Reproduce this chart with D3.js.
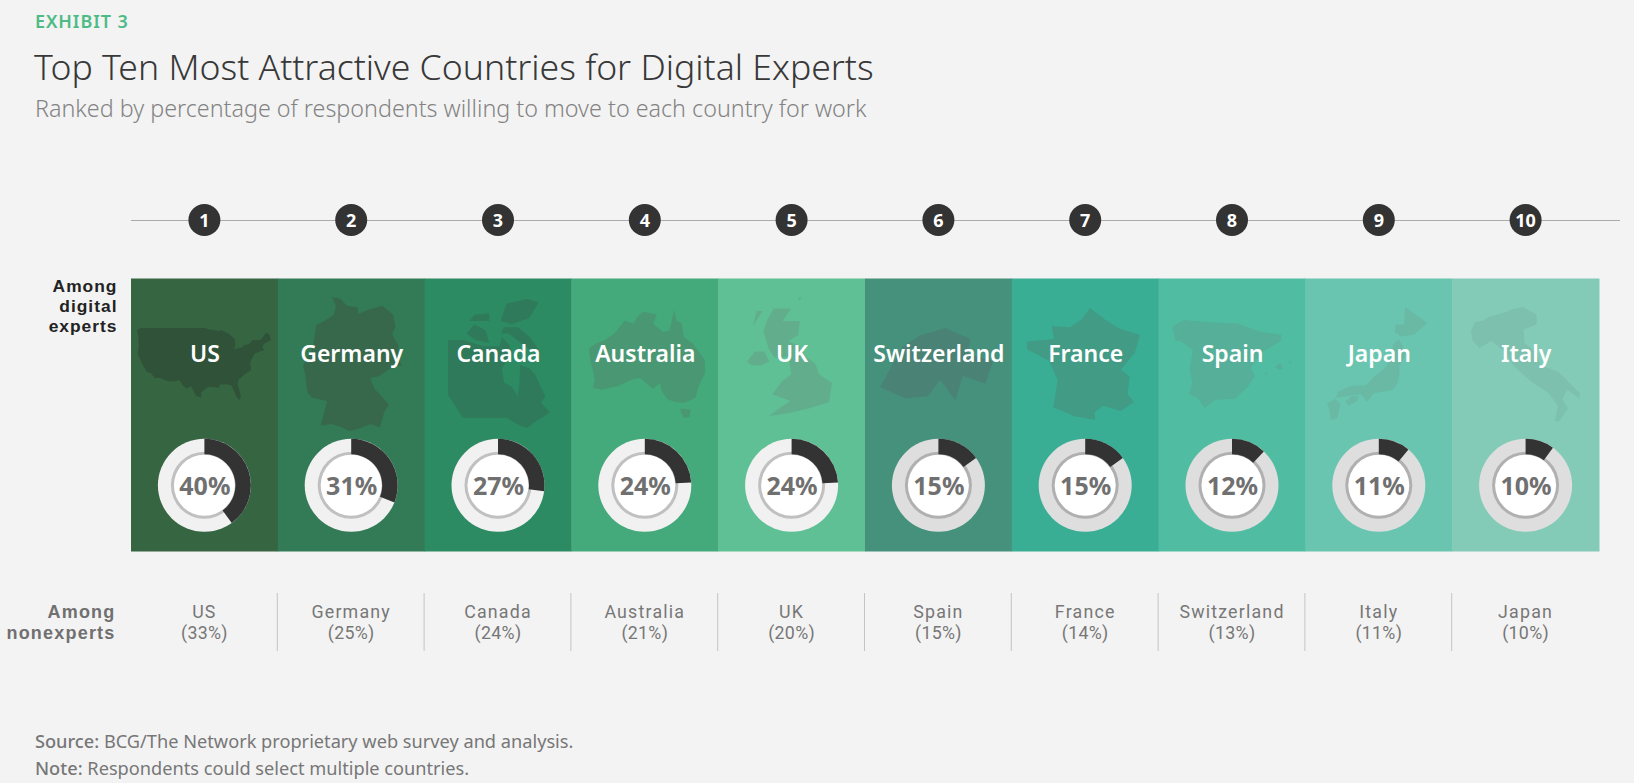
<!DOCTYPE html>
<html>
<head>
<meta charset="utf-8">
<script src="https://cdn.jsdelivr.net/npm/d3@7/dist/d3.min.js"></script>
<style>
  html, body { margin: 0; padding: 0; background: #f3f3f3; }
  svg { display: block; }
  text { font-family: "Noto Sans", "Open Sans", sans-serif; }
  text.tight { font-family: Roboto, "Noto Sans", sans-serif; }
  text.rowlabel { font-family: "Liberation Sans", Roboto, sans-serif; }
</style>
</head>
<body>
<svg id="chart" width="1634" height="783"></svg>
<script>
// ranking among digital experts
var expertCountries = ["US", "Germany", "Canada", "Australia", "UK", "Switzerland", "France", "Spain", "Japan", "Italy"];
var expertValues = [40, 31, 27, 24, 24, 15, 15, 12, 11, 10];
// ranking among nonexperts
var nonexpertCountries = ["US", "Germany", "Canada", "Australia", "UK", "Spain", "France", "Switzerland", "Italy", "Japan"];
var nonexpertValues = [33, 25, 24, 21, 20, 15, 14, 13, 11, 10];
var ranks = [1, 2, 3, 4, 5, 6, 7, 8, 9, 10];
var bandColors = ["#366542", "#327b56", "#2d8b63", "#44a97b", "#5ec094", "#46917b", "#3aae94", "#50bda2", "#69c5af", "#83cbb6"];
var mapColors = ["#2f5239", "#37684c", "#307a5c", "#4a9873", "#62ae8c", "#4a8275", "#419b85", "#55af99", "#69b9a5", "#7cc0ad"];
var trackColors = ["#f1f1f1", "#f1f1f1", "#f1f1f1", "#f1f1f1", "#f1f1f1", "#dedede", "#dedede", "#dedede", "#dedede", "#dedede"];
var ringColors = ["#c0c0c0", "#c0c0c0", "#c0c0c0", "#c0c0c0", "#c0c0c0", "#b0b0b0", "#b0b0b0", "#b0b0b0", "#b0b0b0", "#b0b0b0"];

// rough country outlines, [lon, lat]
var outlineUS = [[[-124.7,48.4],[-123,49],[-95.2,49],[-94.6,48.7],[-92,48.3],[-89.6,48],[-88.4,48.3],[-84.9,46.9],[-82.5,45.3],[-82.4,43],[-83.1,42],[-79,42.7],[-79,43.3],[-76.5,43.6],[-75,45],[-71.5,45],[-70.3,46.2],[-69.2,47.4],[-67.8,47],[-67,45],[-70.2,43.6],[-70.7,42.6],[-70,41.7],[-74,40.6],[-75.5,38.5],[-76,36.9],[-75.5,35.2],[-78,33.9],[-81,32],[-81.4,30.5],[-80,26.8],[-80.4,25.2],[-81.8,26],[-82.8,28],[-84,30],[-86,30.4],[-89,30.3],[-89.5,29.2],[-91.5,29.5],[-94,29.6],[-97,27.8],[-97.2,26],[-99.2,26.5],[-101.4,29.8],[-103,29],[-104.5,29.6],[-106.5,31.8],[-108.2,31.4],[-111,31.3],[-114.8,32.5],[-117.1,32.5],[-118.5,34],[-120.6,34.6],[-122.4,37.2],[-123.8,39.3],[-124.4,40.4],[-124,43],[-124.1,46]]];
var outlineGermany = [[[8.6,54.9],[9.4,54.8],[10,54.4],[11,54.3],[11,53.95],[12.1,54.2],[13.2,54.4],[14.2,53.9],[14.4,53.2],[14.1,52.8],[14.7,52.1],[14.6,51.5],[15,51],[14.3,51],[12.9,50.4],[12.1,50.3],[12.5,49.7],[13.8,48.8],[13.4,48.4],[13,47.5],[12.2,47.7],[10.9,47.4],[10.2,47.3],[9.6,47.5],[8.6,47.7],[7.6,47.6],[8.2,49],[6.8,49.2],[6.4,49.5],[6.2,50.5],[6,51],[6.8,51.9],[7,52.4],[7.2,53.3],[8.1,53.6],[8.8,53.9],[9,54.4]]];
var outlineCanada = [[[-141,70],[-128,70],[-110,68],[-96,68],[-94,71],[-88,68.5],[-85,66],[-94,61],[-92,56.5],[-85,55],[-80,52],[-79,55],[-78,62],[-70,61],[-65,59],[-60,55],[-56,52],[-60,50],[-52,47],[-60,45],[-65,44],[-72,42],[-80,43],[-90,45.2],[-128,45.2],[-141,52.6]],
  [[-125,72],[-117,70],[-105,69],[-108,73],[-118,75]],[[-95,72],[-88,72],[-74,68],[-65,66],[-62,67],[-70,71],[-80,74],[-92,74]],[[-95,76],[-85,75],[-70,77],[-62,82],[-72,83],[-90,81.5]],[[-122,76],[-105,76],[-105,78.5],[-118,78]]];
var outlineAustralia = [[[113.7,-22.5],[114.2,-26],[115.7,-32],[115,-34.3],[118,-35],[123.5,-33.9],[129,-31.7],[131.2,-31.5],[135.5,-34.8],[137.8,-33],[138.5,-35.5],[140.5,-38],[143.5,-38.8],[146.4,-39],[150,-37.4],[151,-34],[153.2,-30],[153.2,-26],[149,-21],[146,-19],[145.3,-15],[143.5,-14],[142.6,-10.8],[141.7,-15],[141,-17],[139,-17.5],[135.5,-15],[136.8,-12.2],[132,-11.3],[130,-13],[129,-15],[126,-14],[122.2,-18],[119,-20],[116,-21]],
  [[144.7,-40.7],[148.3,-41],[147.9,-43.2],[146,-43.6],[145.2,-42.2]]];
var outlineUK = [[[-5,58.6],[-3,58.6],[-4,57.6],[-2,57.6],[-2.2,56.5],[-3.3,56],[-2,55.6],[-1.4,54.8],[-0.2,54.2],[0.2,53.4],[1.7,52.7],[1.5,51.8],[1.4,51.2],[-1,50.7],[-3.5,50.3],[-5.6,50.1],[-3.1,51.3],[-5.2,51.8],[-4.1,52.8],[-3,53.4],[-3.3,54.8],[-4.9,54.7],[-5.6,55.4],[-6.2,56.8],[-5.7,57.8]],
  [[-8.1,54.4],[-7.2,55.2],[-6.1,55.2],[-5.5,54.4],[-6.5,54.1],[-7.6,54.1]],[[-7.4,57.2],[-6.3,58.4],[-7,58.4]],[[-2.2,59.4],[-1.8,59.5],[-2,59.2]]];
var outlineSwitzerland = [[[6,46.2],[6.9,47.3],[7.6,47.6],[8.6,47.8],[9.6,47.5],[9.5,47.1],[10.5,46.9],[10.2,46.3],[9.3,46.5],[9,45.85],[8.4,46.4],[7.9,45.95],[7,45.9]]];
var outlineFrance = [[[2.5,51.1],[4.2,50.2],[5.8,49.5],[8.2,49],[7.6,47.6],[6,46.3],[7,45.8],[6.8,44.4],[7.5,43.8],[6,43.1],[4,43.5],[3,43],[3.1,42.4],[0.7,42.7],[-1.7,43.4],[-1.2,45.5],[-2.2,47],[-4.7,47.9],[-4.7,48.5],[-1.6,48.7],[-1.9,49.7],[0.2,49.6],[1.5,50.2]]];
var outlineSpain = [[[-9.3,43.1],[-8,43.7],[-5,43.5],[-1.8,43.4],[0.7,42.7],[3.2,42.4],[3.2,41.9],[0.8,40.8],[-0.3,39.5],[0.2,38.8],[-0.7,37.8],[-2.1,36.8],[-4.4,36.7],[-5.6,36],[-6.4,36.9],[-7.4,37.2],[-7,38.2],[-7.3,39.5],[-6.9,41],[-8.2,41.8],[-8.9,41.9]],
  [[2.4,39.6],[3.1,39.9],[3.4,39.5],[3,39.3]],[[4,40],[4.3,40.1],[4.3,39.85]],[[1.3,39],[1.6,39.1],[1.5,38.85]]];
var outlineJapan = [[[141.9,45.5],[141.7,43.3],[140.4,43.3],[140.3,42.3],[141.2,41.8],[143.2,42],[145.3,43.4],[144.3,44.1]],
  [[140.9,41.4],[141.5,40.5],[142,39.5],[141,38],[141,36.8],[140.6,35.7],[139.9,35],[138.7,34.8],[137,34.6],[135.9,33.5],[135,34.5],[133,34.2],[131,34],[131.5,34.8],[133.4,35.5],[135.8,35.6],[137.2,36.8],[138.8,37.8],[139.9,39.6],[140,40.8]],
  [[134.6,34.2],[134.3,33.5],[133,33],[132.6,33.6],[133.6,34.2]],
  [[131,33.9],[131.8,33.2],[131.3,31.4],[130.3,31.2],[130,32.8],[129.7,33.3]]];
var outlineItaly = [[[6.6,45.1],[7,45.9],[7.9,46],[8.5,46.3],[9,46.4],[10.4,46.7],[11,46.9],[12.2,47.1],[13.7,46.5],[13.7,45.7],[12.3,45.3],[12.4,44.2],[13.6,43.5],[14.2,42.4],[16.1,41.9],[18.4,40.2],[18.3,39.8],[17,40.5],[16.5,39.7],[17.1,39],[16.1,37.9],[15.7,38],[16,39.2],[15,40.2],[13,41.2],[11.2,42.4],[10.3,43.5],[8.8,44.4],[7.5,43.8],[6.8,44.4]]];
var outlines = [outlineUS, outlineGermany, outlineCanada, outlineAustralia, outlineUK, outlineSwitzerland, outlineFrance, outlineSpain, outlineJapan, outlineItaly];

var W = 1634, H = 783;
var bandTop = 278.5, bandBottom = 551.5;
var donutY = 485.3, rOuter = 46.5, rDark = 31, rRingOut = 33.5, rRingIn = 30.5;
var svg = d3.select("#chart");

var x = d3.scaleBand().domain(ranks).range([131, 1599]).padding(0);
var cx = function(r) { return x(r) + x.bandwidth() / 2; };
// whole circle is 100 percent
var angle = d3.scaleLinear().domain([0, 100]).range([0, 2 * Math.PI]);
var arc = d3.arc();

// where each silhouette sits on its band
var mapBoxes = [[137,271,328,400],[303,402,297,431],[448,550,299,428],[589,705,310,418],[747,832,297,416],[880,993,328,400],[1027,1140,308,420],[1172,1291,320,408],[1327,1427,307,420],[1471,1580,307,422]];

// header
svg.append("text").attr("x", 35).attr("y", 28).attr("fill", "#4dbb85")
    .style("font-size", "18px").style("letter-spacing", "0.9px").style("font-weight", 600).text("EXHIBIT 3");
svg.append("text").attr("x", 34).attr("y", 80).attr("fill", "#383838")
    .style("font-size", "35.6px").style("font-weight", 300).text("Top Ten Most Attractive Countries for Digital Experts");
svg.append("text").attr("x", 35).attr("y", 117).attr("fill", "#838383")
    .style("font-size", "23.3px").style("font-weight", 300).text("Ranked by percentage of respondents willing to move to each country for work");

// rank row
svg.append("line").attr("x1", 131).attr("x2", 1620).attr("y1", 220.5).attr("y2", 220.5)
    .attr("stroke", "#ababab").attr("stroke-width", 1);
var rankG = svg.selectAll(".rank").data(ranks).enter().append("g").attr("class", "rank")
    .attr("transform", function(d) { return "translate(" + cx(d) + ",220)"; });
rankG.append("circle").attr("r", 16).attr("fill", "#333");
rankG.append("text").attr("y", 6.5).attr("text-anchor", "middle").attr("fill", "#fff")
    .style("font-size", "18px").style("font-weight", 700).text(function(d) { return d; });

// bands
svg.selectAll(".band").data(ranks).enter().append("rect").attr("class", "band")
    .attr("x", function(d) { return x(d); }).attr("y", bandTop)
    .attr("width", x.bandwidth() + 0.5).attr("height", bandBottom - bandTop)
    .attr("fill", function(d, i) { return bandColors[i]; });

// country silhouettes
outlines.forEach(function(polys, i) {
    var all = d3.merge(polys), box = mapBoxes[i];
    var mx = d3.scaleLinear().domain(d3.extent(all, function(d) { return d[0]; })).range([box[0], box[1]]);
    var my = d3.scaleLinear().domain(d3.extent(all, function(d) { return d[1]; })).range([box[3], box[2]]);
    var line = d3.line().x(function(d) { return mx(d[0]); }).y(function(d) { return my(d[1]); }).curve(d3.curveLinearClosed);
    svg.append("g").selectAll("path").data(polys).enter().append("path")
        .attr("d", line).attr("fill", mapColors[i]);
});

// country names
svg.selectAll(".name").data(expertCountries).enter().append("text").attr("class", "name")
    .attr("x", function(d, i) { return cx(ranks[i]) + 0.5; }).attr("y", 362)
    .attr("text-anchor", "middle").attr("fill", "#fff")
    .style("font-size", "23px").style("font-weight", 600).text(function(d) { return d; });

// donuts
var donut = svg.selectAll(".donut").data(expertValues).enter().append("g").attr("class", "donut")
    .attr("transform", function(d, i) { return "translate(" + cx(ranks[i]) + "," + donutY + ")"; });
donut.append("circle").attr("r", rOuter).attr("fill", function(d, i) { return trackColors[i]; });
donut.append("circle").attr("r", rRingOut).attr("fill", function(d, i) { return ringColors[i]; });
donut.append("circle").attr("r", rRingIn).attr("fill", "#fff");
donut.append("path").attr("fill", "#333").attr("d", function(d) {
    return arc({ innerRadius: rDark, outerRadius: rOuter, startAngle: 0, endAngle: angle(d) });
});
donut.append("text").attr("x", 0.5).attr("y", 9.5).attr("text-anchor", "middle").attr("fill", "#707070")
    .style("font-size", "25px").style("font-weight", 700).text(function(d) { return d + "%"; });

// row labels, tight leading so a font with a short line box
function rowLabel(lines, ys, color, right, size, spacing) {
    lines.forEach(function(s, i) {
        svg.append("text").attr("class", "rowlabel").attr("x", right).attr("y", ys[i])
            .attr("text-anchor", "end").attr("fill", color)
            .style("font-size", size).style("letter-spacing", spacing).style("font-weight", 700).text(s);
    });
}
rowLabel(["Among", "digital", "experts"], [292, 312, 332], "#222", 117.5, "17.4px", "1px");
rowLabel(["Among", "nonexperts"], [618, 639], "#707070", 115.5, "18px", "1.2px");

// nonexpert row
var sepX = ranks.slice(1);
svg.selectAll(".sep").data(sepX).enter().append("line").attr("class", "sep")
    .attr("x1", function(d) { return x(d) - 0.5; }).attr("x2", function(d) { return x(d) - 0.5; })
    .attr("y1", 593).attr("y2", 651).attr("stroke", "#c4c4c4");
svg.selectAll(".nname").data(nonexpertCountries).enter().append("text").attr("class", "nname tight")
    .attr("x", function(d, i) { return cx(ranks[i]); }).attr("y", 618)
    .attr("text-anchor", "middle").attr("fill", "#777")
    .style("font-size", "17.8px").style("letter-spacing", "1.2px").text(function(d) { return d; });
svg.selectAll(".nval").data(nonexpertValues).enter().append("text").attr("class", "nval tight")
    .attr("x", function(d, i) { return cx(ranks[i]); }).attr("y", 639)
    .attr("text-anchor", "middle").attr("fill", "#777")
    .style("font-size", "17.8px").style("letter-spacing", "0.3px").text(function(d) { return "(" + d + "%)"; });

// footer
function footnote(y, head, rest) {
    var t = svg.append("text").attr("x", 35).attr("y", y).attr("fill", "#777").style("font-size", "18.2px");
    t.append("tspan").style("font-weight", 500).text(head);
    t.append("tspan").text(" " + rest);
}
footnote(748, "Source:", "BCG/The Network proprietary web survey and analysis.");
footnote(775, "Note:", "Respondents could select multiple countries.");
</script>
</body>
</html>
